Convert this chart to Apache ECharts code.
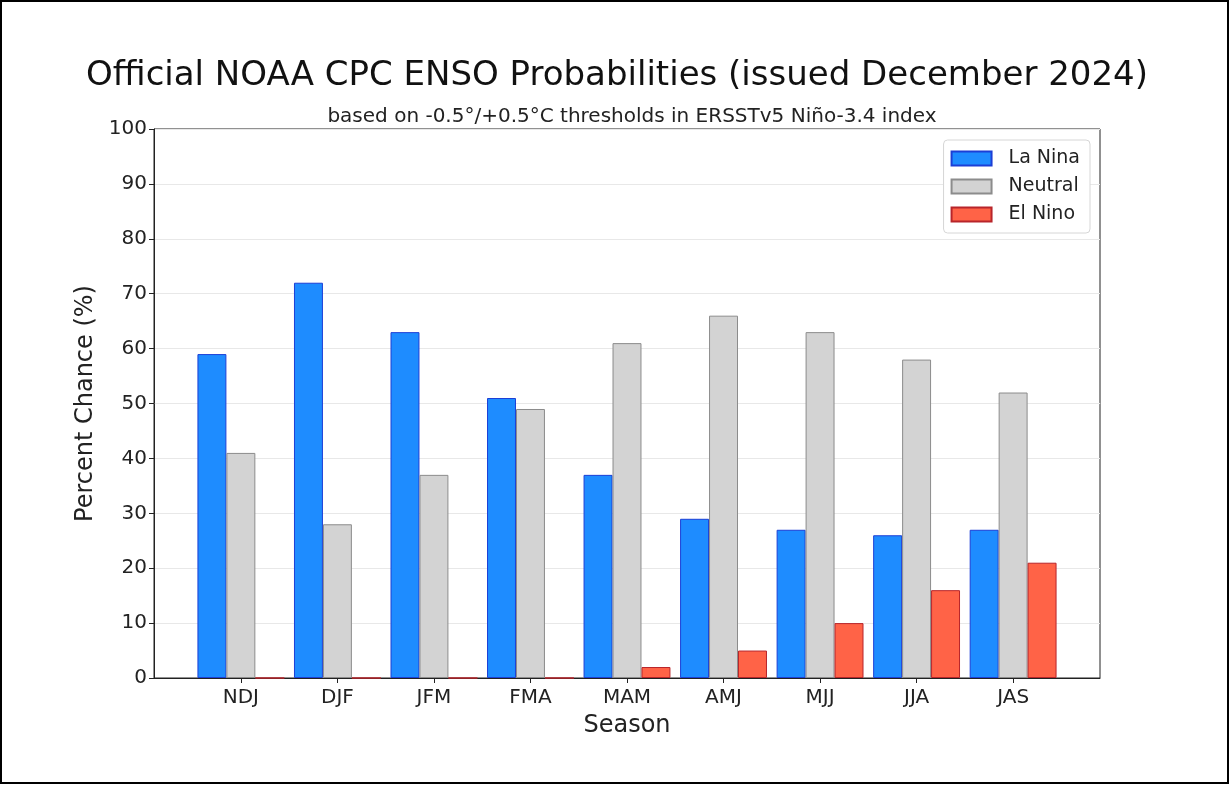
<!DOCTYPE html>
<html lang="en">
<head>
    <meta charset="UTF-8">
    <title>Official NOAA CPC ENSO Probabilities</title>
    <script src="https://cdn.jsdelivr.net/npm/echarts@6.0.0/dist/echarts.min.js"></script>
    <style>
        html, body {
            margin: 0;
            padding: 0;
            background: #fff;
        }
        #chart {
            width: 1230px;
            height: 785px;
        }
    </style>
</head>
<body>
    <div id="chart"></div>
    <script>
        const seasons = ['NDJ', 'DJF', 'JFM', 'FMA', 'MAM', 'AMJ', 'MJJ', 'JJA', 'JAS'];
        const laNina = [59, 72, 63, 51, 37, 29, 27, 26, 27];
        const neutral = [41, 28, 37, 49, 61, 66, 63, 58, 52];
        const elNino = [0, 0, 0, 0, 2, 5, 10, 16, 21];

        const font = 'DejaVu Sans';
        const positions = seasons.map((s, i) => i);

        // bars sit on a numeric x axis so the margins can match matplotlib's xlim
        function toPoints(values) {
            return values.map((v, i) => [i, v]);
        }

        const chart = echarts.init(document.getElementById('chart'));

        const option = {
            animation: false,
            textStyle: { fontFamily: font },
            title: [{
                text: 'Official NOAA CPC ENSO Probabilities (issued December 2024)',
                left: 612,
                textAlign: 'center',
                top: 54,
                textStyle: { fontFamily: font, fontSize: 34, fontWeight: 'normal', color: '#111' }
            }, {
                text: 'based on -0.5°/+0.5°C thresholds in ERSSTv5 Niño-3.4 index',
                left: 627,
                textAlign: 'center',
                top: 102,
                textStyle: { fontFamily: font, fontSize: 20, fontWeight: 'normal', color: '#222' }
            }],
            legend: {
                orient: 'vertical',
                right: 140,
                top: 140,
                padding: [9, 10, 9, 7],
                icon: 'rect',
                itemWidth: 40,
                itemHeight: 14,
                itemGap: 9,
                backgroundColor: '#fff',
                borderColor: '#d6d6d6',
                borderWidth: 1,
                borderRadius: 4,
                textStyle: { fontFamily: font, fontSize: 19, color: '#222', padding: [0, 0, 0, 12] },
                data: ['La Nina', 'Neutral', 'El Nino']
            },
            grid: {
                left: 154,
                right: 130,
                top: 129,
                bottom: 107,
                show: true,
                borderColor: '#222',
                borderWidth: 1,
                backgroundColor: 'transparent'
            },
            xAxis: {
                type: 'value',
                min: -0.9,
                max: 8.9,
                name: 'Season',
                nameLocation: 'middle',
                nameGap: 36,
                nameTextStyle: { fontFamily: font, fontSize: 24, color: '#222' },
                axisLine: { show: true, onZero: false, lineStyle: { color: '#222' } },
                axisTick: { show: true, customValues: positions, length: 5, lineStyle: { color: '#222' } },
                axisLabel: {
                    customValues: positions,
                    formatter: v => seasons[Math.round(v)],
                    fontFamily: font,
                    fontSize: 20,
                    color: '#222',
                    margin: 10
                },
                splitLine: { show: false }
            },
            yAxis: {
                type: 'value',
                min: 0,
                max: 100,
                interval: 10,
                name: 'Percent Chance (%)',
                nameLocation: 'middle',
                nameGap: 52,
                nameTextStyle: { fontFamily: font, fontSize: 24, color: '#222' },
                axisLine: { show: true, onZero: false, lineStyle: { color: '#222' } },
                axisTick: { show: true, length: 5, lineStyle: { color: '#222' } },
                axisLabel: {
                    fontFamily: font,
                    fontSize: 20,
                    color: '#222',
                    margin: 7
                },
                splitLine: { show: true, lineStyle: { color: '#e8e8e8', width: 1 } }
            },
            series: [{
                name: 'La Nina',
                type: 'bar',
                barWidth: '30%',
                barGap: '0%',
                data: toPoints(laNina),
                itemStyle: { color: '#1e8cff', borderColor: '#1c3fd6', borderWidth: 1 }
            }, {
                name: 'Neutral',
                type: 'bar',
                barWidth: '30%',
                barGap: '0%',
                data: toPoints(neutral),
                itemStyle: { color: '#d3d3d3', borderColor: '#8c8c8c', borderWidth: 1 }
            }, {
                name: 'El Nino',
                type: 'bar',
                barWidth: '30%',
                barGap: '0%',
                data: toPoints(elNino),
                itemStyle: { color: '#ff6347', borderColor: '#b8252a', borderWidth: 1 }
            }],
            graphic: [{
                type: 'rect',
                shape: { x: 1, y: 1, width: 1227, height: 782 },
                style: { fill: 'none', stroke: '#000', lineWidth: 2 },
                silent: true
            }]
        };

        chart.setOption(option);
    </script>
</body>
</html>
